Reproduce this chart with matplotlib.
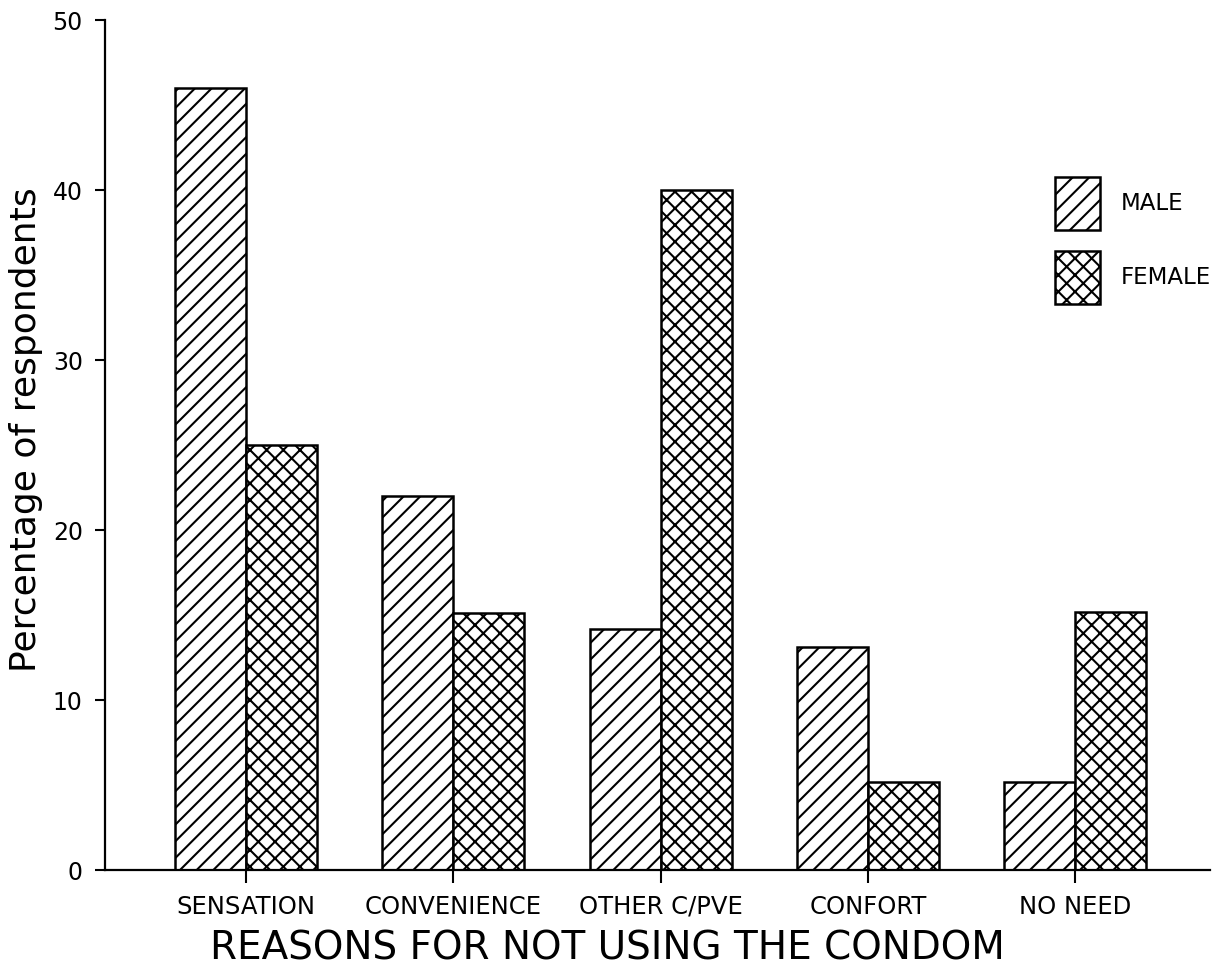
import numpy as np
import matplotlib.pyplot as plt

reasons = ['SENSATION', 'CONVENIENCE', 'OTHER C/PVE', 'CONFORT', 'NO NEED']
male = [46, 22, 14.2, 13.1, 5.2]
female = [25, 15.1, 40, 5.2, 15.2]

plt.rcParams['hatch.linewidth'] = 1.5
plt.rcParams['font.family'] = 'DejaVu Sans'

fig = plt.figure(figsize=(12.2, 9.69), dpi=100)
ax = fig.add_axes([105/1220, 99/969, 1105/1220, 850/969])

x = np.arange(len(reasons))
w = 0.343
ax.bar(x - w/2, male, w, color='white', edgecolor='black', linewidth=1.8,
       hatch='//', label='MALE')
ax.bar(x + w/2, female, w, color='white', edgecolor='black', linewidth=1.8,
       hatch='xx', label='FEMALE')

ax.set_xlim(-0.68, 4.65)
ax.set_ylim(0, 50)
ax.set_yticks(range(0, 51, 10))
ax.set_xticks(x)
ax.set_xticklabels(reasons, fontsize=17.5)
ax.tick_params(axis='y', labelsize=17, length=7, width=1.5, pad=9)
ax.tick_params(axis='x', length=9, width=1.5, pad=9)

for s in ['top', 'right']:
    ax.spines[s].set_visible(False)
for s in ['left', 'bottom']:
    ax.spines[s].set_linewidth(1.6)

ax.set_xlabel('REASONS FOR NOT USING THE CONDOM', fontsize=28)
ax.xaxis.set_label_coords(0.455, -0.07)
ax.set_ylabel('Percentage of respondents', fontsize=26)
ax.yaxis.set_label_coords(-0.056, 0.518)

fig.legend(loc='upper left', bbox_to_anchor=(1055/1220, 1 - 177/969),
           frameon=False, fontsize=16.5, handlelength=1.96, handleheight=3.18,
           labelspacing=0.92, handletextpad=0.92, borderpad=0, borderaxespad=0)

plt.savefig('out.png', dpi=100)
